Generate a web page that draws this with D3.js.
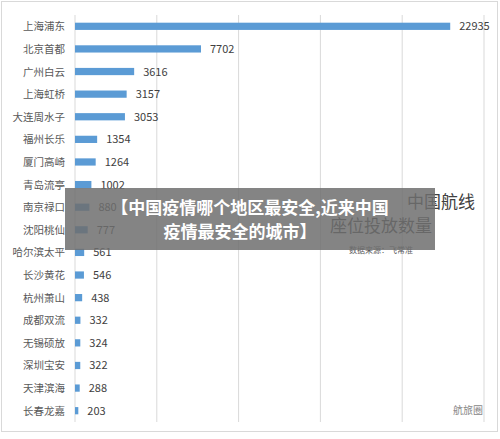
<!DOCTYPE html><html><head><meta charset="utf-8"><script src="https://cdn.jsdelivr.net/npm/d3@7"></script>
<style>body{margin:0;background:#fff}</style></head><body><svg id="c" width="500" height="439"></svg><script>
const categories=["上海浦东","北京首都","广州白云","上海虹桥","大连周水子","福州长乐","厦门高崎","青岛流亭","南京禄口","沈阳桃仙","哈尔滨太平","长沙黄花","杭州萧山","成都双流","无锡硕放","深圳宝安","天津滨海","长春龙嘉"];
const values=[22935,7702,3616,3157,3053,1354,1264,1002,880,777,561,546,438,332,324,322,288,203];
const ticks=[0,5000,10000,15000,20000,25000];
const svg=d3.select("#c");
svg.append("rect").attr("x",1.5).attr("y",1.5).attr("width",496).attr("height",430).attr("fill","#fff").attr("stroke","#d9d9d9");
const x=d3.scaleLinear().domain([0,25000]).range([75,484]);
const y=d3.scaleBand().domain(categories).range([15,422]).paddingInner(0.68).paddingOuter(0.34);
svg.append("g").selectAll("line").data(ticks).join("line").attr("x1",d=>x(d)).attr("x2",d=>x(d)).attr("y1",15).attr("y2",422).attr("stroke","#d9d9d9");
svg.append("g").selectAll("rect").data(values).join("rect").attr("x",x(0)).attr("y",(d,i)=>y(categories[i])).attr("height",y.bandwidth()).attr("width",d=>x(d)-x(0)).attr("fill","#5b9bd5");
svg.append("g").selectAll("text").data(values).join("text").attr("x",d=>x(d)+9).attr("y",(d,i)=>y(categories[i])+y.bandwidth()/2+4).text(d=>d).attr("font-family","Noto Sans CJK SC").attr("font-size",11).attr("fill","#404040");
svg.append("g").selectAll("text").data(categories).join("text").attr("x",65).attr("text-anchor","end").attr("y",d=>y(d)+y.bandwidth()/2+4).text(d=>d).attr("font-family","Noto Sans CJK SC").attr("font-size",10.5).attr("fill","#595959");
svg.append("text").attr("x",475).attr("y",208).attr("text-anchor","end").text("中国航线").attr("font-family","Noto Sans CJK SC").attr("font-size",17).attr("fill","#404040");
svg.append("text").attr("x",432).attr("y",232).attr("text-anchor","end").text("座位投放数量").attr("font-family","Noto Sans CJK SC").attr("font-size",17).attr("fill","#404040");
svg.append("text").attr("x",413).attr("y",253).attr("text-anchor","end").text("数据来源：飞常准").attr("font-family","Noto Sans CJK SC").attr("font-size",8).attr("fill","#595959");
svg.append("rect").attr("x",65).attr("y",188).attr("width",370).attr("height",62).attr("fill","#6e6e6e").attr("opacity",0.85);
svg.append("text").attr("x",250).attr("y",214).attr("text-anchor","middle").text("【中国疫情哪个地区最安全,近来中国").attr("font-family","Noto Sans CJK SC").attr("font-weight","bold").attr("font-size",17).attr("fill","#fff");
svg.append("text").attr("x",240).attr("y",238).attr("text-anchor","middle").text("疫情最安全的城市】").attr("font-family","Noto Sans CJK SC").attr("font-weight","bold").attr("font-size",17).attr("fill","#fff");
svg.append("text").attr("x",483).attr("y",414).attr("text-anchor","end").text("航旅圈").attr("font-family","Noto Sans CJK SC").attr("font-size",10).attr("fill","#888");
</script></body></html>
